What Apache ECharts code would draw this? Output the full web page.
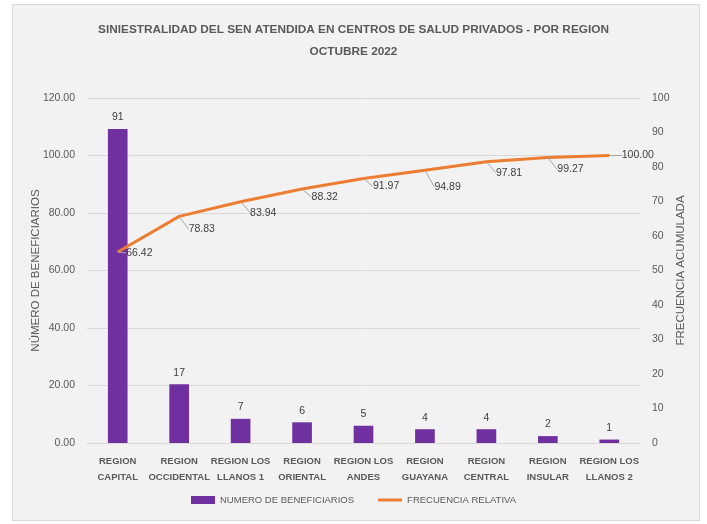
<!DOCTYPE html>
<html>
<head>
<meta charset="utf-8">
<script src="https://cdn.jsdelivr.net/npm/echarts@6/dist/echarts.min.js"></script>
<style>
  html, body { margin: 0; padding: 0; background: #fff; }
  #chart { width: 707px; height: 524px; }
</style>
</head>
<body>
<div id="chart"></div>
<script>
// datos
const regiones = [
  'REGION\nCAPITAL', 'REGION\nOCCIDENTAL', 'REGION LOS\nLLANOS 1', 'REGION\nORIENTAL',
  'REGION LOS\nANDES', 'REGION\nGUAYANA', 'REGION\nCENTRAL', 'REGION\nINSULAR', 'REGION LOS\nLLANOS 2'
]
const beneficiarios = [91, 17, 7, 6, 5, 4, 4, 2, 1]
const frecuencia = [66.42, 78.83, 83.94, 88.32, 91.97, 94.89, 97.81, 99.27, 100.0]
const ticksIzq = [0, 20, 40, 60, 80, 100, 120]
const ticksDer = [0, 10, 20, 30, 40, 50, 60, 70, 80, 90, 100]

// desplazamiento de las etiquetas de la linea (estilo excel)
const labelOffsets = [[4, 1], [5, 13], [5, 11], [5, 8], [5, 8], [5, 17], [5, 11], [5, 12], [8, 0]]

const gris = '#595959'
const font = "'Liberation Sans', Arial, sans-serif"

const chart = echarts.init(document.getElementById('chart'))

chart.setOption({
  animation: false,
  backgroundColor: '#ffffff',
  textStyle: { fontFamily: font },
  graphic: [
    {
      type: 'rect',
      z: -10,
      shape: { x: 12.5, y: 4.5, width: 687, height: 516 },
      style: { fill: '#f2f2f2', stroke: '#d9d9d9', lineWidth: 1 }
    }
  ],
  title: {
    text: 'SINIESTRALIDAD DEL SEN ATENDIDA EN CENTROS DE SALUD PRIVADOS - POR REGION\nOCTUBRE 2022',
    left: 'center',
    top: 14,
    textStyle: {
      color: gris,
      fontFamily: font,
      fontWeight: 'bold',
      fontSize: 11.8,
      lineHeight: 22
    }
  },
  legend: {
    bottom: 14,
    left: 'center',
    itemWidth: 24,
    itemHeight: 8,
    itemGap: 24,
    itemTextGap: 3,
    textStyle: { color: gris, fontSize: 9.5, fontFamily: font },
    data: [
      { name: 'NUMERO DE BENEFICIARIOS', icon: 'rect' },
      { name: 'FRECUENCIA RELATIVA', icon: 'path://M0,0L24,0L24,3L0,3Z' }
    ]
  },
  grid: {
    left: 87,
    right: 67,
    top: 98,
    bottom: 81
  },
  xAxis: {
    type: 'category',
    data: regiones,
    axisTick: { show: false },
    axisLine: { lineStyle: { color: '#d9d9d9' } },
    axisLabel: {
      color: gris,
      fontWeight: 'bold',
      fontSize: 9.5,
      lineHeight: 16,
      margin: 10,
      interval: 0
    }
  },
  yAxis: [
    {
      type: 'value',
      min: ticksIzq[0],
      max: ticksIzq[ticksIzq.length - 1],
      interval: 20,
      name: 'NÚMERO DE BENEFICIARIOS',
      nameLocation: 'middle',
      nameGap: 45,
      nameRotate: 90,
      nameMoveOverlap: false,
      nameTextStyle: { color: gris, fontSize: 11.5 },
      axisLine: { show: false },
      axisTick: { show: false },
      splitLine: { lineStyle: { color: '#d9d9d9' } },
      axisLabel: {
        color: gris,
        fontSize: 10.5,
        margin: 12,
        formatter: (v) => v.toFixed(2)
      }
    },
    {
      type: 'value',
      min: ticksDer[0],
      max: ticksDer[ticksDer.length - 1],
      interval: 10,
      name: 'FRECUENCIA ACUMULADA',
      nameLocation: 'middle',
      nameGap: 35,
      nameRotate: 90,
      nameMoveOverlap: false,
      nameTextStyle: { color: gris, fontSize: 11.5 },
      axisLine: { show: false },
      axisTick: { show: false },
      splitLine: { show: false },
      axisLabel: { color: gris, fontSize: 10.5, margin: 12 }
    }
  ],
  series: [
    {
      name: 'NUMERO DE BENEFICIARIOS',
      type: 'bar',
      yAxisIndex: 1,
      data: beneficiarios,
      barWidth: '32%',
      itemStyle: { color: '#7030a0' },
      label: {
        show: true,
        position: 'top',
        distance: 6,
        color: '#404040',
        fontSize: 10.5
      }
    },
    {
      name: 'FRECUENCIA RELATIVA',
      type: 'line',
      yAxisIndex: 0,
      data: frecuencia,
      symbol: 'circle',
      symbolSize: 1,
      itemStyle: { color: '#ed7d31' },
      lineStyle: { color: '#ed7d31', width: 3 },
      label: {
        show: true,
        position: 'right',
        distance: 4,
        color: '#404040',
        fontSize: 10.5,
        formatter: (p) => p.value.toFixed(2)
      },
      labelLayout: (params) => {
        const o = labelOffsets[params.dataIndex] || [0, 0]
        return { dx: o[0], dy: o[1] }
      },
      labelLine: {
        show: true,
        lineStyle: { color: '#a6a6a6', width: 1 }
      }
    }
  ]
})
</script>
</body>
</html>
